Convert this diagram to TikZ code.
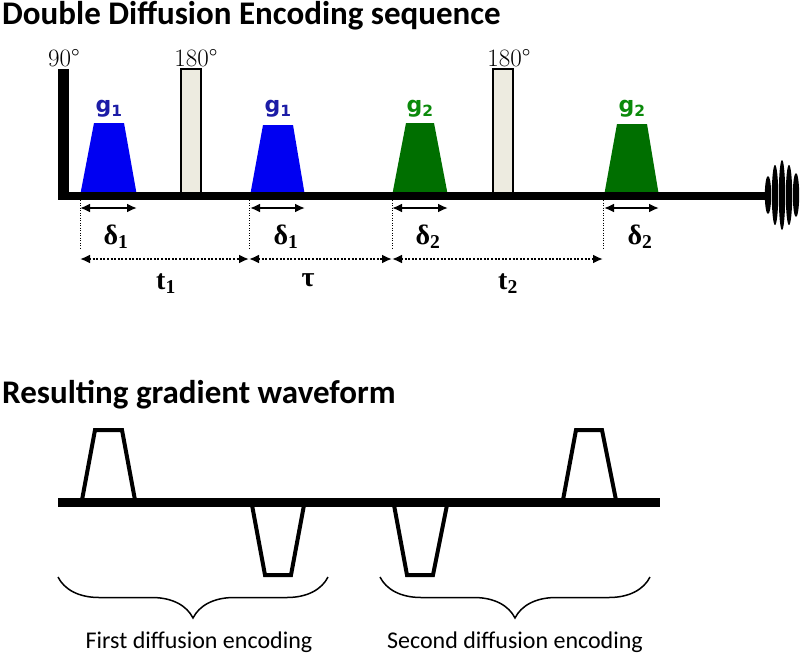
\documentclass[tikz,border=0pt]{standalone}
\usepackage{fontspec}
\usepackage{tikz}
\usetikzlibrary{arrows.meta, decorations.pathreplacing, calc}
\newfontfamily\headfont{Carlito}
\newfontfamily\serfont{Liberation Serif}
\newfontfamily\gfont{DejaVu Sans}
\definecolor{gblue}{HTML}{0000F2}
\definecolor{gbluetxt}{HTML}{1C1CA6}
\definecolor{ggreen}{HTML}{006F00}
\definecolor{ggreentxt}{HTML}{0B8A0B}
\definecolor{pulsefill}{HTML}{EDEBE0}

\begin{document}
\begin{tikzpicture}[
  x=1pt, y=-1pt,
  title/.style={anchor=base west, inner sep=0pt, font=\headfont\bfseries\fontsize{33}{38}\selectfont},
  deg/.style={anchor=base, inner sep=0pt, font=\fontsize{25}{28}\selectfont},
  glab/.style={anchor=base, inner sep=0pt, font=\gfont\bfseries\fontsize{22}{26}\selectfont},
  tlab/.style={anchor=base, inner sep=0pt, font=\serfont\bfseries\fontsize{28}{32}\selectfont},
  enc/.style={anchor=base, inner sep=0pt, font=\headfont\fontsize{24}{28}\selectfont},
  span/.style={{Latex[length=10pt,width=9pt]}-{Latex[length=10pt,width=9pt]}, line width=2pt},
  gapspan/.style={span, dash pattern=on 2pt off 1.6pt},
  guide/.style={line width=0.8pt, dash pattern=on 1pt off 1.5pt},
  pulse/.style={draw=black, line width=1.2pt, fill=pulsefill},
  lobe/.style={line width=4pt},
  brc/.style={decorate, decoration={brace, amplitude=41pt, mirror}, line width=1.5pt}
]
\useasboundingbox (0,0) rectangle (800,653);

% titles
\node[title] (seqtitle) at (2,24) {Double Diffusion Encoding sequence};
\node[title] (wavetitle) at (2,403) {Resulting gradient waveform};

% gradient pulses of the sequence
\fill[gblue] (80,196) -- (94,123) -- (124,123) -- (137,196) -- cycle;
\fill[gblue] (250,196) -- (263,125) -- (293,125) -- (305,196) -- cycle;
\fill[ggreen] (392,196) -- (406,123) -- (434,123) -- (448,196) -- cycle;
\fill[ggreen] (604,196) -- (617,124) -- (647,124) -- (659,196) -- cycle;
\node[glab, text=gbluetxt] (g1a) at (109,112) {g\textsubscript{1}};
\node[glab, text=gbluetxt] (g1b) at (278,112) {g\textsubscript{1}};
\node[glab, text=ggreentxt] (g2a) at (420,112) {g\textsubscript{2}};
\node[glab, text=ggreentxt] (g2b) at (632,112) {g\textsubscript{2}};

% rf pulses
\draw[pulse] (181,69) rectangle (201,193);
\draw[pulse] (493,69) rectangle (513,193);
\node[deg] (exc) at (64,66) {90°};
\node[deg] (ref1) at (196,66) {180°};
\node[deg] (ref2) at (509,66) {180°};

% axis and echo
\fill (58,69) rectangle (69,200);
\fill (58,192) rectangle (768,200);
\foreach \x/\h in {768/19, 775/30, 782/35, 789/30, 796/22}
  \fill (\x,195) ellipse (3.2 and \h);

% timing marks
\foreach \n/\x in {e0/80, e1/249, e2/392, e3/603} {
  \coordinate (\n-top) at (\x,200);
  \coordinate (\n-bot) at (\x,250);
  \coordinate (\n-t) at (\x,259);
  \draw[guide] (\n-top) -- (\n-bot);
}
\foreach \n/\a/\b in {d1/80/137, d2/250/305, d3/392/448, d4/604/659} {
  \coordinate (\n-l) at (\a,208);
  \coordinate (\n-r) at (\b,208);
  \draw[span] (\n-l) -- (\n-r);
}
\draw[gapspan] (e0-t) -- (e1-t);
\draw[gapspan] (e1-t) -- (e2-t);
\draw[gapspan] (e2-t) -- (e3-t);

\node[tlab] (del1a) at (116,244) {δ\textsubscript{1}};
\node[tlab] (del1b) at (286,244) {δ\textsubscript{1}};
\node[tlab] (del2a) at (428,244) {δ\textsubscript{2}};
\node[tlab] (del2b) at (640,244) {δ\textsubscript{2}};
\node[tlab] (tone) at (166,289) {t\textsubscript{1}};
\node[tlab] (tau) at (308,286) {τ};
\node[tlab] (ttwo) at (508,289) {t\textsubscript{2}};

% resulting waveform
\fill (58,498) rectangle (660,507);
\draw[lobe] (82,500) -- (95,430) -- (122,430) -- (135,500);
\draw[lobe] (252,505) -- (265,575) -- (291,575) -- (304,505);
\draw[lobe] (394,505) -- (407,575) -- (433,575) -- (447,505);
\draw[lobe] (563,500) -- (576,430) -- (602,430) -- (616,500);

\coordinate (b1l) at (58,577);
\coordinate (b1r) at (328,577);
\coordinate (b2l) at (380,577);
\coordinate (b2r) at (650,577);
\draw[brc] (b1l) -- (b1r);
\draw[brc] (b2l) -- (b2r);
\node[enc] (first) at (199,648) {First diffusion encoding};
\node[enc] (second) at (515,648) {Second diffusion encoding};
\end{tikzpicture}
\end{document}
